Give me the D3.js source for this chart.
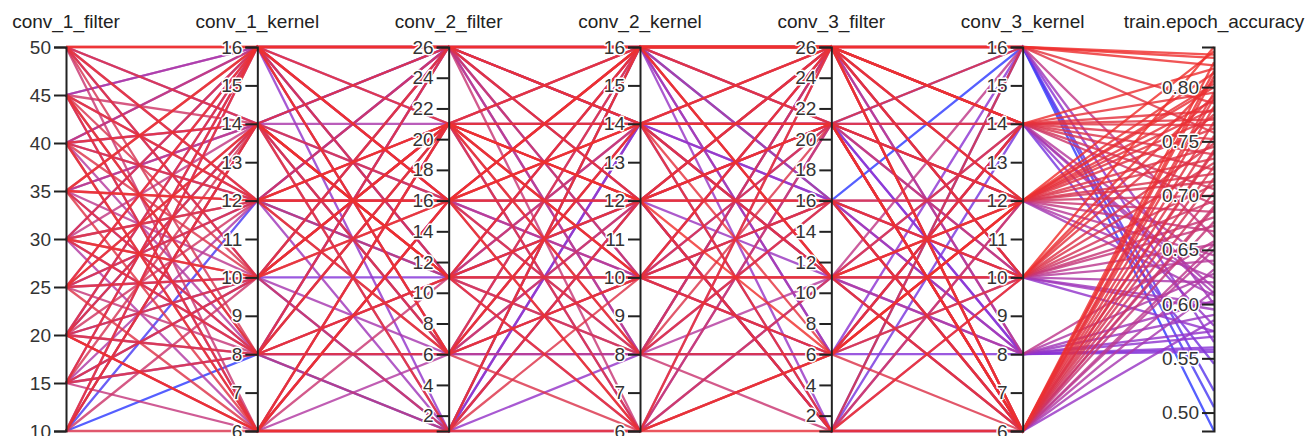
<!DOCTYPE html>
<html>
<head>
<meta charset="utf-8">
<script src="https://cdn.jsdelivr.net/npm/d3@7"></script>
<style>
  html, body { margin: 0; padding: 0; background: #fff; }
  svg { display: block; font-family: "Liberation Sans", Arial, Helvetica, sans-serif; }
  .axis .domain { stroke: #222; stroke-width: 2px; }
  .axis .tick line { stroke: #222; stroke-width: 2px; }
  .axis .tick text {
    fill: #333; font-size: 19px;
    stroke: #fff; stroke-width: 3px; paint-order: stroke; stroke-linejoin: round;
  }
  .title { fill: #222; font-size: 19px; text-anchor: middle; }
  .run { fill: none; stroke-width: 2.3px; stroke-opacity: 0.82; }
</style>
</head>
<body>
<svg id="chart" width="1308" height="436"></svg>
<script>
// Hyperparameter sweep: one entry per training run, one array per column.
const dimensions = ["conv_1_filter", "conv_1_kernel", "conv_2_filter", "conv_2_kernel",
                    "conv_3_filter", "conv_3_kernel", "train.epoch_accuracy"];

const conv1Filter = [
  10,10,20,15,20,25,40,50,30,20,
  45,35,15,25,40,30,10,50,20,35,
  45,15,30,25,40,50,10,35,20,45,
  30,15,25,40,50,35,10,45,20,30,
  25,40,15,50,35,45,10,30,20,40,
  25,50,15,35,45,30,20,40,10,25,
  50,35,15,45,30,20,40,25,50,35,
  10,45,30,15,40,20,25,35,50,45,
  10,30,35,15,50,40,20,25,45,20
];
const conv1Kernel = [
  8,12,14,10,10,12,14,14,16,16,
  6,8,16,10,12,8,16,10,6,14,
  16,12,6,16,8,12,14,10,8,12,
  14,6,8,16,6,12,10,14,12,10,
  14,6,14,8,16,10,6,12,8,10,
  6,16,8,6,8,16,10,12,14,12,
  14,8,10,12,8,16,6,14,12,16,
  16,6,10,16,14,6,16,12,16,16,
  14,12,14,8,10,16,14,10,8,6
];
const conv2Filter = [
  1,11,26,1,11,26,16,26,6,21,
  1,6,16,21,1,26,11,6,16,21,
  11,26,6,16,11,21,1,26,6,16,
  11,21,1,26,11,16,21,6,26,1,
  11,16,6,21,11,26,16,6,21,26,
  1,16,11,21,6,26,16,21,11,6,
  1,26,21,16,11,6,21,26,16,21,
  6,1,21,26,11,16,26,21,16,26,
  16,11,6,26,21,1,11,16,21,1
];
const conv2Kernel = [
  16,12,14,14,16,16,10,10,8,14,
  8,16,12,6,12,8,14,10,16,12,
  6,14,12,8,10,16,6,8,14,10,
  12,10,12,6,8,14,16,12,10,16,
  8,6,14,12,10,16,12,6,8,12,
  10,14,16,6,10,12,16,14,10,16,
  12,14,8,12,16,10,16,14,6,12,
  14,16,10,16,12,16,16,12,14,14,
  8,14,8,12,10,14,6,16,14,6
];
const conv3Filter = [
  16,1,21,1,6,21,21,6,26,16,
  6,1,11,11,26,16,21,16,6,1,
  26,11,21,11,26,16,21,6,26,11,
  1,26,16,21,1,11,26,16,6,21,
  26,11,21,1,16,11,26,6,21,26,
  16,11,26,6,21,1,11,26,11,21,
  26,6,16,21,26,11,26,26,6,16,
  21,11,26,26,21,26,26,6,1,21,
  6,11,26,21,6,16,26,26,21,1
];
const conv3Kernel = [
  16,16,16,14,8,8,8,16,8,10,
  14,6,8,10,16,8,12,6,14,10,
  12,8,6,14,10,12,6,10,8,16,
  12,10,6,10,12,6,14,10,12,6,
  14,10,12,6,12,14,6,10,12,14,
  6,12,10,14,6,16,12,14,6,12,
  10,14,6,16,12,10,6,12,12,10,
  6,12,14,16,6,16,16,12,10,14,
  6,6,6,10,12,8,6,14,14,6
];
const accuracy = [
  0.483,0.505,0.520,0.545,0.556,0.558,0.560,0.565,0.570,0.575,
  0.580,0.585,0.590,0.595,0.600,0.603,0.608,0.612,0.615,0.620,
  0.624,0.628,0.632,0.636,0.640,0.645,0.650,0.655,0.658,0.662,
  0.667,0.672,0.676,0.680,0.685,0.688,0.692,0.695,0.700,0.703,
  0.706,0.710,0.713,0.716,0.720,0.724,0.727,0.730,0.734,0.738,
  0.742,0.745,0.748,0.752,0.755,0.758,0.762,0.765,0.768,0.772,
  0.775,0.778,0.782,0.785,0.788,0.792,0.795,0.800,0.803,0.806,
  0.810,0.813,0.817,0.820,0.823,0.827,0.830,0.833,0.837,0.610,
  0.740,0.690,0.655,0.600,0.780,0.575,0.815,0.795,0.770,0.790
];

const columns = [conv1Filter, conv1Kernel, conv2Filter, conv2Kernel,
                 conv3Filter, conv3Kernel, accuracy];

const width = 1308, height = 436;
const margin = { top: 47, bottom: 5, left: 66, right: 94 };

const svg = d3.select("#chart");

const x = d3.scalePoint()
  .domain(dimensions)
  .range([margin.left, width - margin.right]);

const y = {};
dimensions.forEach((dim, i) => {
  y[dim] = d3.scaleLinear()
    .domain(d3.extent(columns[i]))
    .range([height - margin.bottom, margin.top]);
});

// Line colour follows the run's accuracy: blue (low) through purple to red (high).
const color = d3.scaleLinear()
  .domain([0.483, 0.56, 0.64, 0.72, 0.837])
  .range(["#2f3cff", "#8a34d6", "#b63a9c", "#d8334f", "#f0302c"])
  .clamp(true);

const runs = d3.range(accuracy.length)
  .sort((a, b) => accuracy[a] - accuracy[b]);

const line = d3.line();

svg.append("g")
  .selectAll("path")
  .data(runs)
  .join("path")
  .attr("class", "run")
  .attr("stroke", i => color(accuracy[i]))
  .attr("d", i => line(dimensions.map((dim, k) => [x(dim), y[dim](columns[k][i])])));

// One vertical axis per hyperparameter.
dimensions.forEach(dim => {
  const axis = d3.axisLeft(y[dim]).tickSize(12).tickSizeOuter(12).tickPadding(3);
  if (dim === "train.epoch_accuracy") axis.tickFormat(d3.format(".2f"));
  const g = svg.append("g")
    .attr("class", "axis")
    .attr("transform", `translate(${x(dim)},0)`)
    .call(axis);
  g.selectAll(".tick text").attr("font-family", null).attr("font-size", null);

  svg.append("text")
    .attr("class", "title")
    .attr("x", x(dim))
    .attr("y", 28)
    .text(dim);
});
</script>
</body>
</html>
